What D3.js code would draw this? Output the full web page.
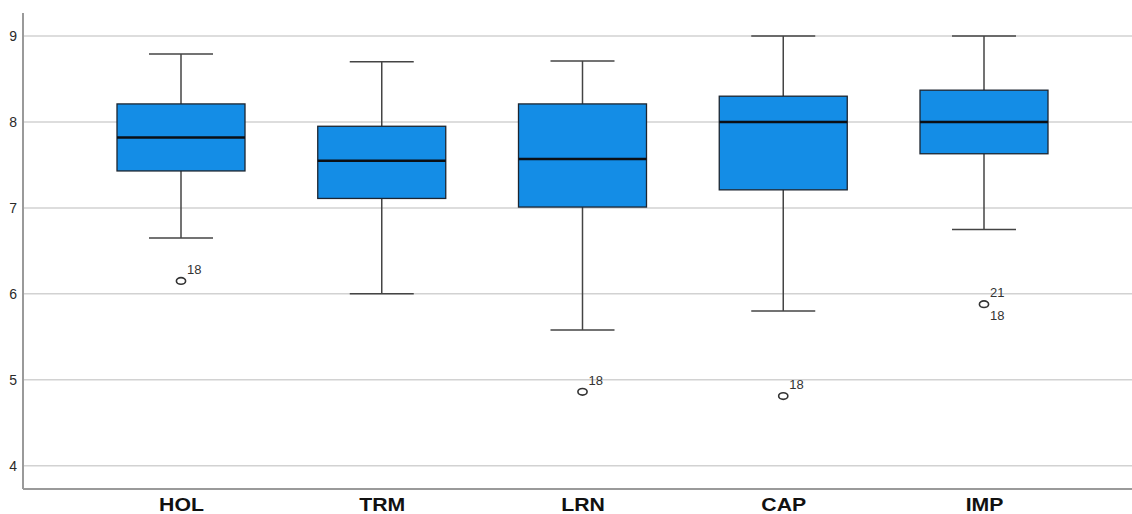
<!DOCTYPE html>
<html>
<head>
<meta charset="utf-8">
<script src="https://cdn.jsdelivr.net/npm/d3@7/dist/d3.min.js"></script>
<style>
  html, body { margin: 0; padding: 0; background: #fff; }
  svg { display: block; }
  text { font-family: Arial, "Liberation Sans", sans-serif; }
</style>
</head>
<body>
<svg id="chart" width="1132" height="514"></svg>
<script>
// Five-number summaries per scale
const categories  = ["HOL", "TRM", "LRN", "CAP", "IMP"];
const whiskerLow  = [6.65, 6.00, 5.58, 5.80, 6.75];
const q1          = [7.43, 7.11, 7.01, 7.21, 7.63];
const median      = [7.82, 7.55, 7.57, 8.00, 8.00];
const q3          = [8.21, 7.95, 8.21, 8.30, 8.37];
const whiskerHigh = [8.79, 8.70, 8.71, 9.00, 9.00];

// Outlying cases with their case numbers
const outlierCat   = ["HOL", "LRN", "CAP", "IMP", "IMP"];
const outlierValue = [6.15, 4.86, 4.81, 5.88, 5.88];
const outlierLabel = ["18", "18", "18", "21", "18"];

const yTicks = [4, 5, 6, 7, 8, 9];

(function () {
  const svg = d3.select("#chart");
  const W = 1132;
  const plotLeft = 23, plotBottom = 489, plotTop = 13;

  const y = d3.scaleLinear().domain([3.729, 9.268]).range([plotBottom, plotTop]);
  const x = d3.scalePoint().domain(categories).range([181, 984]);
  const boxW = 128;

  // Gridlines
  svg.append("g").selectAll("line").data(yTicks).join("line")
    .attr("x1", plotLeft).attr("x2", W)
    .attr("y1", d => y(d)).attr("y2", d => y(d))
    .attr("stroke", "#d2d2d2").attr("stroke-width", 1.5);

  // Y axis tick labels
  const yAxis = svg.append("g").attr("transform", `translate(${plotLeft},0)`)
    .call(d3.axisLeft(y).tickValues(yTicks).tickSize(0).tickPadding(6).tickFormat(d3.format("d")));
  yAxis.select(".domain").remove();
  yAxis.selectAll("text").attr("font-size", 14).attr("fill", "#2a2a2a");

  // Axis lines
  svg.append("line").attr("x1", plotLeft).attr("x2", plotLeft).attr("y1", plotTop).attr("y2", plotBottom)
    .attr("stroke", "#9a9a9a").attr("stroke-width", 2);
  svg.append("line").attr("x1", plotLeft).attr("x2", W).attr("y1", plotBottom).attr("y2", plotBottom)
    .attr("stroke", "#9a9a9a").attr("stroke-width", 2);

  // Category labels
  const xAxis = svg.append("g").attr("transform", `translate(0,${plotBottom})`)
    .call(d3.axisBottom(x).tickSize(0).tickPadding(0));
  xAxis.select(".domain").remove();
  xAxis.selectAll("text")
    .attr("y", 0).attr("dy", 0)
    .attr("font-size", 18).attr("font-weight", "bold").attr("fill", "#111")
    .attr("transform", "translate(0,22) scale(1.18,1)");

  const rows = categories.map((c, i) => ({
    c, lo: whiskerLow[i], q1: q1[i], med: median[i], q3: q3[i], hi: whiskerHigh[i]
  }));

  const g = svg.append("g").selectAll("g").data(rows).join("g")
    .attr("transform", d => `translate(${x(d.c)},0)`);

  // Whisker stems
  g.append("line").attr("x1", 0).attr("x2", 0)
    .attr("y1", d => y(d.hi)).attr("y2", d => y(d.q3))
    .attr("stroke", "#444").attr("stroke-width", 1.5);
  g.append("line").attr("x1", 0).attr("x2", 0)
    .attr("y1", d => y(d.q1)).attr("y2", d => y(d.lo))
    .attr("stroke", "#444").attr("stroke-width", 1.5);
  // Whisker caps
  g.append("line").attr("x1", -boxW / 4).attr("x2", boxW / 4)
    .attr("y1", d => y(d.hi)).attr("y2", d => y(d.hi))
    .attr("stroke", "#444").attr("stroke-width", 1.5);
  g.append("line").attr("x1", -boxW / 4).attr("x2", boxW / 4)
    .attr("y1", d => y(d.lo)).attr("y2", d => y(d.lo))
    .attr("stroke", "#444").attr("stroke-width", 1.5);

  // Boxes
  g.append("rect")
    .attr("x", -boxW / 2).attr("width", boxW)
    .attr("y", d => y(d.q3)).attr("height", d => y(d.q1) - y(d.q3))
    .attr("fill", "#148de6").attr("stroke", "#1c2530").attr("stroke-width", 1.3);
  // Medians
  g.append("line").attr("x1", -boxW / 2).attr("x2", boxW / 2)
    .attr("y1", d => y(d.med)).attr("y2", d => y(d.med))
    .attr("stroke", "#0b0f14").attr("stroke-width", 2.5);

  // Outliers; cases sharing a value share one marker, labels above and below
  const outliers = outlierCat.map((c, i) => ({ c, v: outlierValue[i], label: outlierLabel[i] }));
  const count = {};
  outliers.forEach(o => {
    const key = o.c + "|" + o.v;
    o.rank = count[key] || 0;
    count[key] = o.rank + 1;
  });
  outliers.forEach(o => { o.shared = count[o.c + "|" + o.v] > 1; });

  const og = svg.append("g");
  og.selectAll("ellipse").data(outliers.filter(o => o.rank === 0)).join("ellipse")
    .attr("cx", d => x(d.c)).attr("cy", d => y(d.v))
    .attr("rx", 4.6).attr("ry", 3.3)
    .attr("fill", "none").attr("stroke", "#333").attr("stroke-width", 1.6);
  og.selectAll("text").data(outliers).join("text")
    .attr("x", d => x(d.c) + 6)
    .attr("y", d => (d.shared && d.rank > 0) ? y(d.v) + 16 : y(d.v) - 7)
    .attr("font-size", 13).attr("fill", "#333")
    .text(d => d.label);
})();
</script>
</body>
</html>
